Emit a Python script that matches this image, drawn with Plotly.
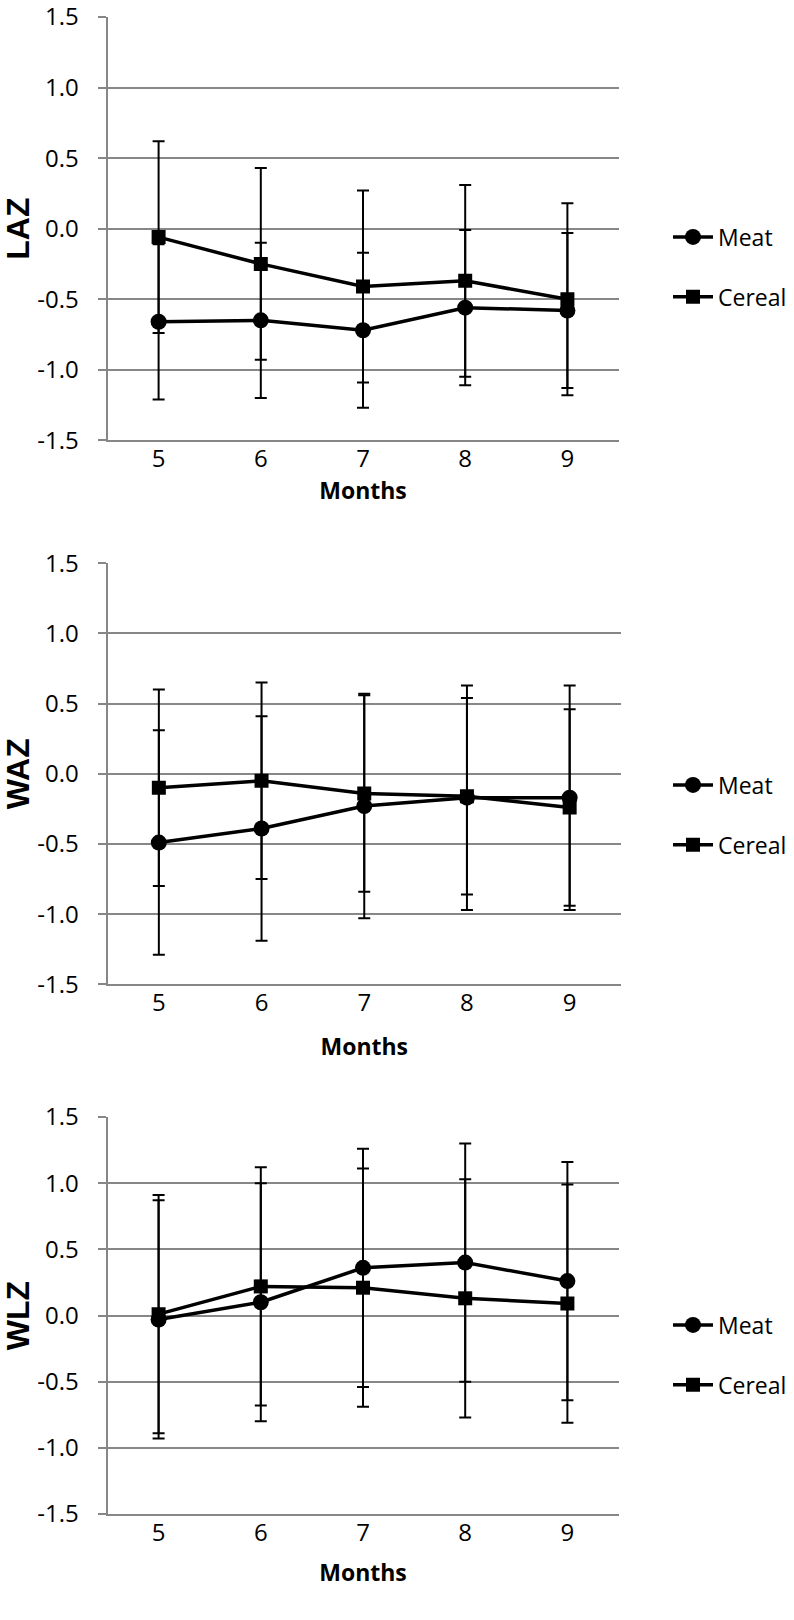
import plotly.graph_objects as go

W, H = 794, 1620

months = ["5", "6", "7", "8", "9"]
tick_vals = [-1.5, -1.0, -0.5, 0.0, 0.5, 1.0, 1.5]
tick_text = ["-1.5", "-1.0", "-0.5", "0.0", "0.5", "1.0", "1.5"]

laz_meat = [-0.66, -0.65, -0.72, -0.56, -0.58]
laz_meat_sd = [0.55, 0.55, 0.55, 0.55, 0.55]
laz_cereal = [-0.06, -0.25, -0.41, -0.37, -0.50]
laz_cereal_sd = [0.68, 0.68, 0.68, 0.68, 0.68]

waz_meat = [-0.49, -0.39, -0.23, -0.17, -0.17]
waz_meat_sd = [0.80, 0.80, 0.80, 0.80, 0.80]
waz_cereal = [-0.10, -0.05, -0.14, -0.16, -0.24]
waz_cereal_sd = [0.70, 0.70, 0.70, 0.70, 0.70]

wlz_meat = [-0.03, 0.10, 0.36, 0.40, 0.26]
wlz_meat_sd = [0.90, 0.90, 0.90, 0.90, 0.90]
wlz_cereal = [0.01, 0.22, 0.21, 0.13, 0.09]
wlz_cereal_sd = [0.90, 0.90, 0.90, 0.90, 0.90]

panels = [
    ("LAZ", laz_meat, laz_meat_sd, laz_cereal, laz_cereal_sd),
    ("WAZ", waz_meat, waz_meat_sd, waz_cereal, waz_cereal_sd),
    ("WLZ", wlz_meat, wlz_meat_sd, wlz_cereal, wlz_cereal_sd),
]

# layout in pixels
x_px = [(107.5, 618.5), (107.5, 621.0), (107.5, 618.5)]
y_px = [(17.0, 440.3), (563.3, 984.3), (1117.0, 1514.0)]
legend_center_px = [267.0, 815.0, 1355.0]
months_standoff = [6, 22, 18]

GRID = "#878787"
FONT = "Open Sans, Noto Sans, Liberation Sans, sans-serif"

fig = go.Figure()
layout = dict(
    width=W, height=H, autosize=False,
    margin=dict(l=0, r=0, t=0, b=0, autoexpand=False),
    paper_bgcolor="white", plot_bgcolor="white",
    font=dict(family=FONT, color="#000000", size=24),
    showlegend=True,
)

for i, (name, meat, meat_sd, cereal, cereal_sd) in enumerate(panels):
    n = i + 1
    xa = "x" if n == 1 else f"x{n}"
    ya = "y" if n == 1 else f"y{n}"
    lg = "legend" if n == 1 else f"legend{n}"
    for label, vals, sd, sym, msize in [("Meat", meat, meat_sd, "circle", 16),
                                         ("Cereal", cereal, cereal_sd, "square", 14)]:
        fig.add_trace(go.Scatter(
            x=months, y=vals, name=label, mode="lines+markers",
            xaxis=xa, yaxis=ya, legend=lg, legendgroup=f"{label}{n}",
            line=dict(color="#000000", width=3.5),
            marker=dict(symbol=sym, size=msize, color="#000000"),
            error_y=dict(type="data", array=sd, visible=True,
                         color="#000000", thickness=2, width=6),
        ))
    x0, x1 = x_px[i]
    y0, y1 = y_px[i]
    layout[f"xaxis{'' if n == 1 else n}"] = dict(
        domain=[x0 / W, x1 / W], anchor=ya, type="category", automargin=False,
        range=[-0.5, 4.5], showgrid=False, zeroline=False,
        showline=True, linecolor=GRID, linewidth=2, ticks="",
        tickfont=dict(family=FONT, size=24, color="#000000"),
        ticklabelstandoff=-4, ticklabeloverflow="allow",
        title=dict(text="<b>Months</b>", font=dict(family=FONT, size=23, color="#000000"),
                   standoff=months_standoff[i]),
    )
    layout[f"yaxis{'' if n == 1 else n}"] = dict(
        domain=[1 - y1 / H, 1 - y0 / H], anchor=xa, automargin=False,
        range=[-1.5, 1.5], tickvals=tick_vals, ticktext=tick_text,
        showgrid=True, gridcolor=GRID, gridwidth=2, zeroline=False,
        showline=True, linecolor=GRID, linewidth=2,
        ticks="outside", ticklen=8, tickcolor=GRID, tickwidth=2,
        tickfont=dict(family=FONT, size=24, color="#000000"),
        ticklabelstandoff=14, ticklabeloverflow="allow",
        title=dict(text=f"<b>{name}</b>",
                   font=dict(family="Liberation Sans, Arial, sans-serif", size=32, color="#000000"),
                   standoff=1),
    )
    layout[lg] = dict(
        x=668 / W, xanchor="left", y=1 - legend_center_px[i] / H, yanchor="middle",
        font=dict(family=FONT, size=23, color="#000000"),
        bgcolor="rgba(0,0,0,0)", tracegroupgap=27, itemwidth=40,
    )

fig.update_layout(**layout)
fig.write_html("out.html", config={"displayModeBar": False},
               post_script="document.body.style.margin='0';document.body.style.overflow='hidden';")
